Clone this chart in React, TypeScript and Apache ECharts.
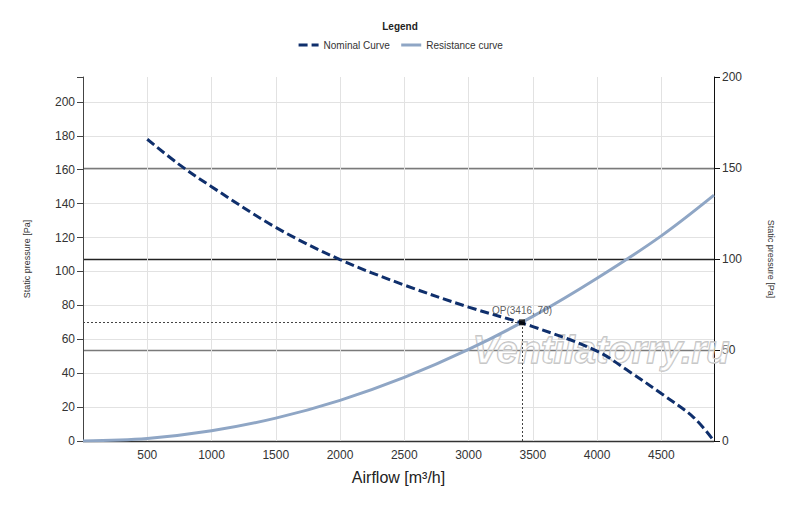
import React, { useEffect, useRef } from "react";
import * as echarts from "echarts";

const nominalAirflow = [500, 750, 1000, 1500, 2000, 2500, 3000, 3500, 4000, 4250, 4500, 4750, 4910];
const nominalPressure = [178, 163, 150, 126, 107, 92, 79, 67.5, 53, 41, 28, 14, 0];
const resistanceAirflow = [0, 500, 1000, 1500, 2000, 2500, 3000, 3500, 4000, 4500, 4910];
const resistancePressure = [0, 1.5, 6, 13.5, 24, 37.5, 54, 73.5, 96, 121, 145];
const operatingPoint = [3416, 70];
const xMax = 4910;
const leftMax = 214.7;
const rightMax = 200;

const FONT = "Liberation Sans, Arial, sans-serif";

export default function App() {
  const ref = useRef<HTMLDivElement>(null);
  useEffect(() => {
    if (!ref.current) return;
    const chart = echarts.init(ref.current, undefined, { renderer: "svg" });
    const nominal = nominalAirflow.map((x, i) => [x, nominalPressure[i]]);
    const resistance = resistanceAirflow.map((x, i) => [x, resistancePressure[i]]);
    chart.setOption({
      animation: false,
      textStyle: { fontFamily: FONT },
      title: {
        text: "Legend",
        left: "center",
        top: 16,
        textStyle: { fontSize: 10, fontWeight: "bold", color: "#222", fontFamily: FONT },
      },
      legend: {
        data: ["Nominal Curve", "Resistance curve"],
        left: "center",
        top: 35,
        itemWidth: 20,
        itemHeight: 10,
        itemGap: 10,
        itemStyle: { opacity: 0 },
        lineStyle: { width: 3 },
        textStyle: { fontSize: 10, color: "#333", fontFamily: FONT },
      },
      grid: { left: 83, right: 86, top: 77, bottom: 66 },
      xAxis: {
        type: "value",
        min: 0,
        max: xMax,
        interval: 500,
        name: "Airflow [m³/h]",
        nameLocation: "middle",
        nameGap: 28,
        nameTextStyle: { fontSize: 16, color: "#222", fontFamily: FONT },
        axisLine: { show: true, lineStyle: { color: "#333", width: 1 } },
        axisTick: { show: false },
        axisLabel: {
          fontSize: 12,
          color: "#333",
          margin: 8,
          formatter: (v: number) => (v > 0 && v % 500 === 0 ? String(v) : ""),
        },
        splitLine: { show: true, lineStyle: { color: "#e2e2e2", width: 1 } },
      },
      yAxis: [
        {
          type: "value",
          min: 0,
          max: leftMax,
          interval: 20,
          position: "left",
          name: "Static pressure [Pa]",
          nameLocation: "middle",
          nameGap: 52,
          nameRotate: 90,
          nameTextStyle: { fontSize: 9, color: "#333", fontFamily: FONT },
          axisLine: { show: true, lineStyle: { color: "#444", width: 1 } },
          axisTick: { show: true, length: 6, lineStyle: { color: "#444" } },
          axisLabel: {
            fontSize: 12,
            color: "#333",
            margin: 8,
            formatter: (v: number) => (v % 20 === 0 ? String(v) : ""),
          },
          splitLine: { show: true, lineStyle: { color: "#e2e2e2", width: 1 } },
        },
        {
          type: "value",
          min: 0,
          max: rightMax,
          interval: 50,
          position: "right",
          name: "Static pressure [Pa]",
          nameLocation: "middle",
          nameGap: 52,
          nameRotate: -90,
          nameTextStyle: { fontSize: 9, color: "#333", fontFamily: FONT },
          axisLine: { show: true, lineStyle: { color: "#111", width: 1 } },
          axisTick: { show: true, length: 6, lineStyle: { color: "#111" } },
          axisLabel: { fontSize: 12, color: "#333", margin: 8 },
          splitLine: {
            show: true,
            lineStyle: { color: ["#333", "#7a7a7a", "#222", "#7a7a7a", "#ffffff"], width: 1.3 },
          },
        },
      ],
      graphic: [
        {
          type: "text",
          left: 472,
          top: 330,
          z: 1,
          silent: true,
          style: {
            text: "Ventilatorry.ru",
            font: "italic bold 38px Liberation Sans, Arial, sans-serif",
            fill: "rgba(255,255,255,0.4)",
            stroke: "#bdbdbd",
            lineWidth: 1.3,
          },
        },
      ],
      series: [
        {
          name: "Resistance curve",
          type: "line",
          yAxisIndex: 0,
          data: resistance,
          smooth: 0.35,
          symbol: "none",
          lineStyle: { color: "#8fa6c5", width: 3 },
          itemStyle: { color: "#8fa6c5" },
          z: 3,
        },
        {
          name: "Nominal Curve",
          type: "line",
          yAxisIndex: 0,
          data: nominal,
          smooth: 0.35,
          symbol: "none",
          lineStyle: { color: "#0f2f6c", width: 3, type: [9, 4] },
          itemStyle: { color: "#0f2f6c" },
          z: 4,
        },
        {
          name: "OP",
          type: "scatter",
          yAxisIndex: 0,
          data: [operatingPoint],
          symbol: "rect",
          symbolSize: 6,
          itemStyle: { color: "#000" },
          z: 6,
          label: {
            show: true,
            position: "top",
            distance: 4,
            fontSize: 10,
            color: "#333",
            formatter: () => `OP(${operatingPoint[0]}, ${operatingPoint[1]})`,
          },
          markLine: {
            silent: true,
            symbol: "none",
            label: { show: false },
            lineStyle: { color: "#444", type: [2, 2], width: 1 },
            data: [
              [{ coord: [0, operatingPoint[1]] }, { coord: [operatingPoint[0], operatingPoint[1]] }],
              [{ coord: [operatingPoint[0], 0] }, { coord: [operatingPoint[0], operatingPoint[1]] }],
            ],
          },
        },
      ],
    });
    return () => chart.dispose();
  }, []);
  return (
    <div
      ref={ref}
      style={{ position: "absolute", left: 0, top: 0, width: 800, height: 507, background: "#fff" }}
    />
  );
}
